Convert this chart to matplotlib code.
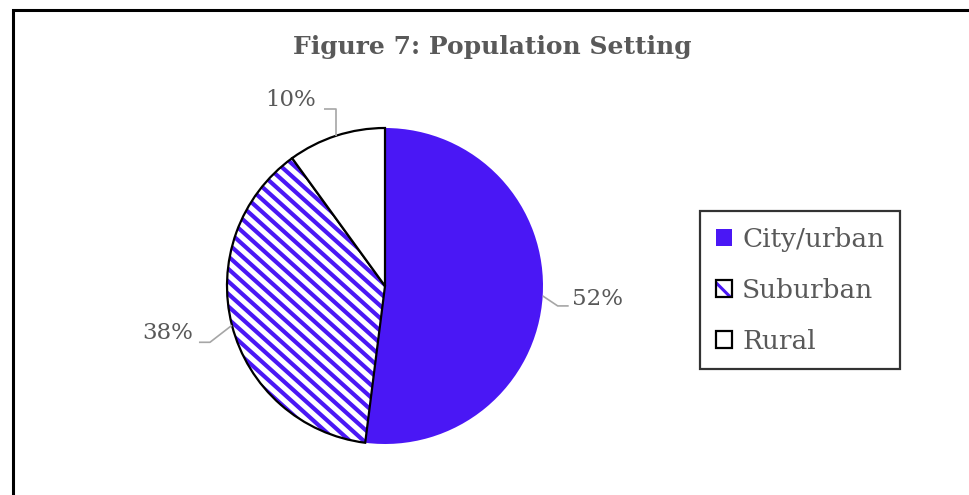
import numpy as np
import matplotlib
matplotlib.use("Agg")
import matplotlib.pyplot as plt
from matplotlib.patches import Rectangle, Patch, Wedge
from matplotlib.legend_handler import HandlerTuple

categories = ["City/urban", "Suburban", "Rural"]
values = [52, 38, 10]
labels = ["52%", "38%", "10%"]

W, H = 969, 495
BLUE = "#4A17F5"
GRAY = "#595959"
LEAD = "#A6A6A6"
FONT = "DejaVu Serif"
plt.rcParams["hatch.linewidth"] = 2.2

fig = plt.figure(figsize=(W / 100, H / 100), dpi=100)

# outer border (runs off right and bottom like the reference)
fig.add_artist(Rectangle((13 / W, -0.1), 1.2, 1 + 0.1 - 10 / H, transform=fig.transFigure,
                         fill=False, edgecolor="black", linewidth=2.2))

cx, cy, R = 385, 286, 158
ax = fig.add_axes([(cx - R) / W, (H - cy - R) / H, 2 * R / W, 2 * R / H])

wedges, _ = ax.pie(values, startangle=90, counterclock=False, radius=1,
                   colors=[BLUE, "white", "white"])
ax.set_xlim(-1, 1)
ax.set_ylim(-1, 1)
ax.set_aspect("equal")
ax.axis("off")

wedges[0].set_edgecolor("none")
for w in wedges[1:]:
    w.set_edgecolor("black")
    w.set_linewidth(1.6)
    w.set_zorder(3)
wedges[1].set_facecolor("none")

px = 1.0 / R

# diagonal blue stripes inside the Suburban wedge
ang_s = np.deg2rad(42)
step = 12.5 * px
xs = np.array([-1.2, 1.2])
for c in np.arange(-3, 3, step):
    ln, = ax.plot(xs, -np.tan(ang_s) * xs + c, color=BLUE, lw=3.0, zorder=2,
                  solid_capstyle="butt")
    ln.set_clip_path(wedges[1])
bg = Wedge((0, 0), 1, wedges[1].theta1, wedges[1].theta2, facecolor="white",
           edgecolor="none", zorder=1)
ax.add_patch(bg)

# leader geometry in pixels: (elbow dx, elbow dy(up+), horizontal dx, text gap, text dy, ha)
leader = [(15, -10, 11, 3, 7, "left"),
          (-22, -17, -11, -6, 9, "right"),
          (0, 27, -12, -8, 9, "right")]
angles = []
start = 90.0
for v in values:
    span = v / sum(values) * 360
    angles.append(np.deg2rad(start - span / 2))
    start -= span

for ang, lab, (ex, ey, hx, gap, tdy, ha) in zip(angles, labels, leader):
    x0, y0 = np.cos(ang), np.sin(ang)
    x1, y1 = x0 + ex * px, y0 + ey * px
    x2 = x1 + hx * px
    ax.plot([x0, x1, x2], [y0, y1, y1], color=LEAD, lw=1.2, clip_on=False,
            solid_capstyle="butt", zorder=4)
    ax.text(x2 + gap * px, y1 + tdy * px, lab, ha=ha, va="center", color=GRAY,
            fontsize=16.5, family=FONT, clip_on=False)

fig.text(492 / W, 1 - 47 / H, "Figure 7: Population Setting", ha="center", va="center",
         fontsize=18, fontweight="bold", color=GRAY, family=FONT)

plt.rcParams["hatch.color"] = BLUE
handles = [Patch(facecolor=BLUE, edgecolor="none"),
           (Patch(facecolor="white", edgecolor=BLUE, hatch="\\", linewidth=0),
            Patch(facecolor="none", edgecolor="black", linewidth=1.6)),
           Patch(facecolor="white", edgecolor="black", linewidth=1.6)]
leg = fig.legend(handles, categories, loc="upper left",
                 bbox_to_anchor=(700 / W, 1 - 211 / H), frameon=True, fancybox=False,
                 prop={"family": FONT, "size": 19}, handlelength=0.6, handleheight=0.6,
                 handletextpad=0.4, labelspacing=0.98, borderpad=0.6, borderaxespad=0,
                 handler_map={tuple: HandlerTuple(ndivide=1, pad=0)})
leg.get_frame().set_edgecolor("black")
leg.get_frame().set_linewidth(1.6)
for t in leg.get_texts():
    t.set_color(GRAY)

fig.savefig("out.png", dpi=100)
